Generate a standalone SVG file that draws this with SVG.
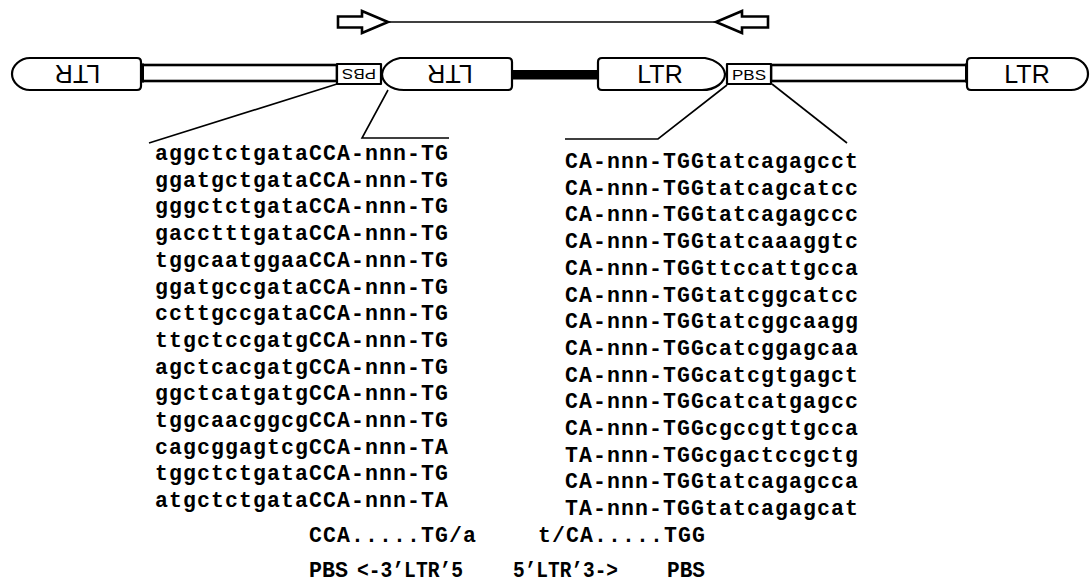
<svg xmlns="http://www.w3.org/2000/svg" width="1091" height="583" viewBox="0 0 1091 583">
<style>
.box{fill:#fff;stroke:#000;stroke-width:2.2;stroke-linejoin:round}
.bar{fill:#fff;stroke:#000;stroke-width:2.6}
.ln{fill:none;stroke:#000;stroke-width:1.6}
.arr{fill:#fff;stroke:#000;stroke-width:2.6;stroke-linejoin:miter}
.ltr{font-family:"Liberation Sans",Arial,sans-serif;font-size:25px;text-anchor:middle;fill:#000}
.pbs{font-family:"Liberation Sans",Arial,sans-serif;font-size:15px;text-anchor:middle;fill:#000}
.seq{font-family:"Liberation Mono","Courier New",monospace;font-weight:bold;font-size:21.5px;letter-spacing:1.1px;fill:#000}
.bot{font-family:"Liberation Mono","Courier New",monospace;font-weight:bold;font-size:21.5px;fill:#000}
</style>
<g id="connectors">
<polygon class="arr" points="338,16.5 362,16.5 362,11 388,22 362,33 362,27.5 338,27.5"/>
<line class="ln" x1="388" y1="22" x2="716" y2="22"/>
<polygon class="arr" points="768,16.5 742,16.5 742,11 716,22 742,33 742,27.5 768,27.5"/>
<polyline class="ln" points="337,84 149,143"/>
<polyline class="ln" points="388,90 362,138 449,138"/>
<polyline class="ln" points="727,85 658,139 565,139"/>
<polyline class="ln" points="772,84 847,143"/>
</g>
<g id="bar-left">
<rect class="bar" x="142" y="65" width="195" height="16"/>
<rect x="140" y="63.5" width="4" height="19" fill="#000"/>
</g>
<g id="bar-mid">
<rect x="511" y="70" width="88" height="9.5" fill="#000"/>
</g>
<g id="bar-right">
<rect class="bar" x="771" y="65" width="196" height="16"/>
<rect x="965" y="63.5" width="3" height="19" fill="#000"/>
</g>
<g id="ltr1">
<path class="box" d="M30 58 H137 Q141 58 141 62 V86 Q141 90 137 90 H30 C20 90 12 82 12 74 C12 66 20 58 30 58 Z"/>
<text class="ltr" transform="rotate(180 77.5 74)" x="77.5" y="83">LTR</text>
</g>
<g id="pbs1">
<rect class="box" x="337" y="64" width="44" height="20"/>
<text class="pbs" transform="rotate(180 359 74)" x="359" y="79.5" textLength="34" lengthAdjust="spacingAndGlyphs">PBS</text>
</g>
<g id="ltr2">
<path class="box" d="M400 58 H508 Q512 58 512 62 V86 Q512 90 508 90 H404 C390 90 382 82 382 74 C383 66 390 60 400 58 Z"/>
<text class="ltr" transform="rotate(180 450 74)" x="450" y="83">LTR</text>
</g>
<g id="ltr3">
<path class="box" d="M602 58 H705 C716 60 724 66 725 74 C725 82 716 90 702 90 H602 Q598 90 598 86 V62 Q598 58 602 58 Z"/>
<text class="ltr" x="660" y="83">LTR</text>
</g>
<g id="pbs2">
<rect class="box" x="727" y="64" width="44" height="20"/>
<text class="pbs" x="749" y="79.5" textLength="34" lengthAdjust="spacingAndGlyphs">PBS</text>
</g>
<g id="ltr4">
<path class="box" d="M971 58 H1071 C1081 58 1088 66 1088 74 C1088 82 1081 90 1071 90 H971 Q967 90 967 86 V62 Q967 58 971 58 Z"/>
<text class="ltr" x="1027" y="83">LTR</text>
</g>
<g id="left-seqs" class="seq">
<text x="155" y="160">aggctctgataCCA-nnn-TG</text>
<text x="155" y="186.7">ggatgctgataCCA-nnn-TG</text>
<text x="155" y="213.4">gggctctgataCCA-nnn-TG</text>
<text x="155" y="240.1">gacctttgataCCA-nnn-TG</text>
<text x="155" y="266.8">tggcaatggaaCCA-nnn-TG</text>
<text x="155" y="293.5">ggatgccgataCCA-nnn-TG</text>
<text x="155" y="320.2">ccttgccgataCCA-nnn-TG</text>
<text x="155" y="346.9">ttgctccgatgCCA-nnn-TG</text>
<text x="155" y="373.6">agctcacgatgCCA-nnn-TG</text>
<text x="155" y="400.3">ggctcatgatgCCA-nnn-TG</text>
<text x="155" y="427">tggcaacggcgCCA-nnn-TG</text>
<text x="155" y="453.7">cagcggagtcgCCA-nnn-TA</text>
<text x="155" y="480.4">tggctctgataCCA-nnn-TG</text>
<text x="155" y="507.1">atgctctgataCCA-nnn-TA</text>
</g>
<g id="right-seqs" class="seq">
<text x="565" y="168">CA-nnn-TGGtatcagagcct</text>
<text x="565" y="194.7">CA-nnn-TGGtatcagcatcc</text>
<text x="565" y="221.4">CA-nnn-TGGtatcagagccc</text>
<text x="565" y="248.1">CA-nnn-TGGtatcaaaggtc</text>
<text x="565" y="274.8">CA-nnn-TGGttccattgcca</text>
<text x="565" y="301.5">CA-nnn-TGGtatcggcatcc</text>
<text x="565" y="328.2">CA-nnn-TGGtatcggcaagg</text>
<text x="565" y="354.9">CA-nnn-TGGcatcggagcaa</text>
<text x="565" y="381.6">CA-nnn-TGGcatcgtgagct</text>
<text x="565" y="408.3">CA-nnn-TGGcatcatgagcc</text>
<text x="565" y="435">CA-nnn-TGGcgccgttgcca</text>
<text x="565" y="461.7">TA-nnn-TGGcgactccgctg</text>
<text x="565" y="488.4">CA-nnn-TGGtatcagagcca</text>
<text x="565" y="515.1">TA-nnn-TGGtatcagagcat</text>
</g>
<g id="consensus" class="seq">
<text x="309" y="542">CCA.....TG/a</text>
<text x="538" y="542">t/CA.....TGG</text>
</g>
<g id="orientation" class="bot">
<text x="309" y="577" textLength="39" lengthAdjust="spacingAndGlyphs">PBS</text>
<text x="357" y="577" textLength="106" lengthAdjust="spacingAndGlyphs">&lt;-3’LTR’5</text>
<text x="513" y="577" textLength="105" lengthAdjust="spacingAndGlyphs">5’LTR’3-&gt;</text>
<text x="667" y="577" textLength="38" lengthAdjust="spacingAndGlyphs">PBS</text>
</g>
</svg>
